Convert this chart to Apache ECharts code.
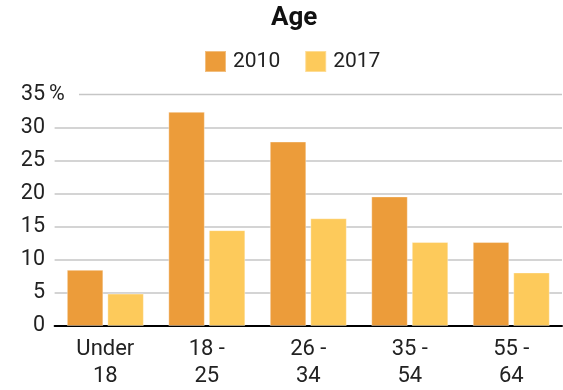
<!DOCTYPE html>
<html>
<head>
<meta charset="utf-8">
<script src="https://cdn.jsdelivr.net/npm/echarts@6/dist/echarts.min.js"></script>
<style>
  html, body { margin: 0; padding: 0; background: #fff; }
  #chart { width: 563px; height: 390px; }
</style>
</head>
<body>
<div id="chart"></div>
<script>
// Share of people by age group, 2010 vs 2017 (percent)
const categories = ['Under\n18', '18 -\n25', '26 -\n34', '35 -\n54', '55 -\n64'];
const values2010 = [8.5, 32.4, 27.9, 19.6, 12.7];
const values2017 = [4.9, 14.5, 16.3, 12.7, 8.1];
const seriesNames = ['2010', '2017'];
const yMax = 35;
const yStep = 5;

const FONT = 'Roboto, "Liberation Sans", sans-serif';
const TEXT = '#222222';
const ORANGE = '#EC9C3A';
const YELLOW = '#FDCA5B';
const GRID_LINE = '#c6c6c6';

const chart = echarts.init(document.getElementById('chart'), null, { renderer: 'canvas' });

// the top gridline is hidden by the colour cycle and redrawn after the "%" label
const splitColors = [];
for (let v = 0; v <= yMax; v += yStep) splitColors.push(v === yMax ? 'rgba(0,0,0,0)' : GRID_LINE);

const option = {
  backgroundColor: '#ffffff',
  animation: false,
  textStyle: { fontFamily: FONT },
  title: {
    text: 'Age',
    left: 271,
    top: 5,
    padding: 0,
    textStyle: { fontFamily: FONT, fontWeight: 'bold', fontSize: 26, color: '#111' }
  },
  legend: {
    data: seriesNames,
    left: 204,
    top: 50,
    padding: 0,
    itemWidth: 21,
    itemHeight: 21,
    itemGap: 24,
    icon: 'rect',
    textStyle: { fontFamily: FONT, fontSize: 21, color: TEXT, padding: [0, 0, 0, 2] }
  },
  grid: { left: 54.6, right: 1, top: 94.6, bottom: 59.7, containLabel: false },
  xAxis: {
    type: 'category',
    data: categories,
    axisLine: { show: true, lineStyle: { color: '#000', width: 2 } },
    axisTick: { show: false },
    axisLabel: {
      fontFamily: FONT, fontSize: 22, lineHeight: 27, color: TEXT, margin: 10, interval: 0
    },
    splitLine: { show: false }
  },
  yAxis: {
    type: 'value',
    min: 0,
    max: yMax,
    interval: yStep,
    axisLine: { show: false },
    axisTick: { show: false },
    splitLine: { show: true, lineStyle: { color: splitColors, width: 1.5 } },
    axisLabel: {
      align: 'left',
      margin: 33.6,
      formatter: function (v) {
        return v === yMax ? '{n|' + v + '}{p|%}' : '{n|' + v + '}';
      },
      rich: {
        n: { width: 24, align: 'right', fontFamily: FONT, fontSize: 21.5, color: TEXT },
        p: { fontFamily: FONT, fontSize: 21.5, color: TEXT, padding: [0, 0, 0, 4] }
      }
    }
  },
  series: [
    {
      name: seriesNames[0],
      type: 'bar',
      data: values2010,
      barWidth: 36.5,
      barGap: '11%',
      itemStyle: { color: ORANGE, borderColor: 'rgba(255,255,255,0.35)', borderWidth: 1 }
    },
    {
      name: seriesNames[1],
      type: 'bar',
      data: values2017,
      barWidth: 36.5,
      barGap: '11%',
      itemStyle: { color: YELLOW, borderColor: 'rgba(255,255,255,0.35)', borderWidth: 1 }
    }
  ]
};

chart.setOption(option);

// top gridline, starting after the "35 %" label
const topY = chart.convertToPixel({ yAxisIndex: 0 }, yMax);
const rightX = chart.getWidth() - 1;
chart.setOption({
  graphic: [{
    type: 'line',
    shape: { x1: 79, y1: topY, x2: rightX, y2: topY },
    style: { stroke: GRID_LINE, lineWidth: 1.5 },
    silent: true
  }]
});
</script>
</body>
</html>
